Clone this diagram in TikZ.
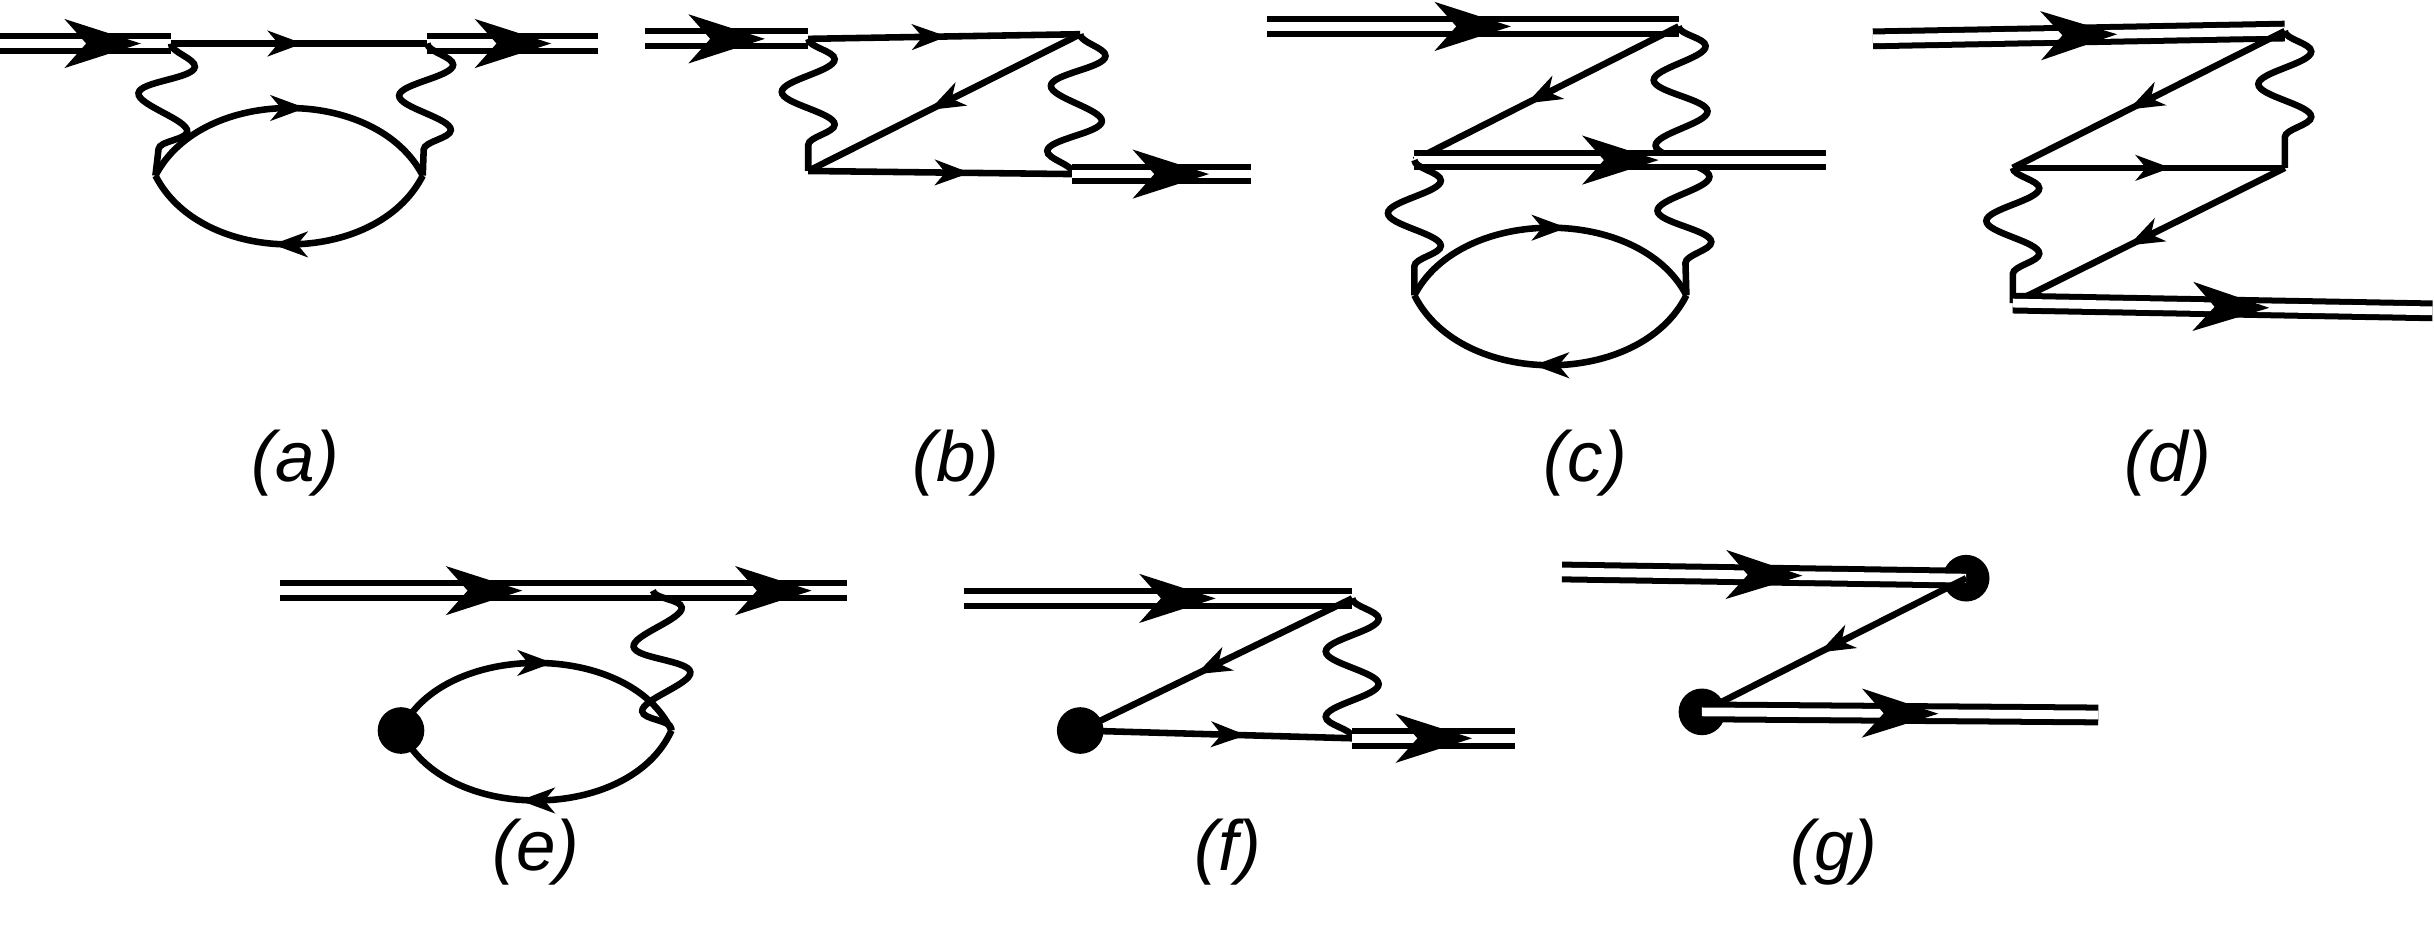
\documentclass[tikz,border=0pt]{standalone}
\usepackage{fontspec}
\setmainfont{Liberation Sans}
\usetikzlibrary{decorations.pathmorphing,decorations.markings}
\tikzset{
 ln/.style={line width=1.2pt},
 dl/.style={double, double distance=1.6pt, line width=1.1pt},
 big/.style={postaction={decorate,decoration={markings,mark=at position #1 with {\fill (-7pt,-4.5pt)--(7pt,0)--(-7pt,4.5pt)--(-3pt,0)--cycle;}}}},
 sm/.style={postaction={decorate,decoration={markings,mark=at position #1 with {\fill (-3.5pt,-2.4pt)--(3pt,0)--(-3.5pt,2.4pt)--(-1.5pt,0)--cycle;}}}},
 wig/.style={line width=1.2pt, decorate, decoration={snake, segment length=0.42cm, amplitude=0.17cm}},
 lab/.style={font=\itshape\fontsize{13}{16}\selectfont},
 dot/.style={circle, fill, inner sep=0pt, minimum size=0.3cm}
}
\begin{document}
\begin{tikzpicture}[x=0.01cm,y=-0.01cm]
\useasboundingbox (0,0) rectangle (1566,606);
% (a)
\coordinate (a0) at (0,28); \coordinate (a1) at (110,28); \coordinate (a2) at (275,28); \coordinate (a3) at (385,28);
\coordinate (aL) at (100,113); \coordinate (aR) at (272,113);
\draw[dl] (a0)--(a1); \path[big=0.6] (a0)--(a1);
\draw[ln,sm=0.45] (a1)--(a2);
\draw[dl] (a2)--(a3); \path[big=0.5] (a2)--(a3);
\draw[wig] (a1)--(aL); \draw[wig] (a2)--(aR);
\draw[ln,sm=0.5] (aL) .. controls (130,55) and (242,55) .. (aR);
\draw[ln,sm=0.5] (aR) .. controls (242,172) and (130,172) .. (aL);
\node[lab] (la) at (190,298) {(a)};
% (b)
\coordinate (b0) at (415,25); \coordinate (b1) at (520,25); \coordinate (b2) at (695,22);
\coordinate (b3) at (520,110); \coordinate (b4) at (690,112); \coordinate (b5) at (805,112);
\draw[dl] (b0)--(b1); \path[big=0.5] (b0)--(b1);
\draw[ln,sm=0.45] (b1)--(b2);
\draw[wig] (b1)--(b3); \draw[wig] (b2)--(b4);
\draw[ln,sm=0.5] (b2)--(b3);
\draw[ln,sm=0.55] (b3)--(b4);
\draw[dl] (b4)--(b5); \path[big=0.55] (b4)--(b5);
\node[lab] (lb) at (615,298) {(b)};
% (c)
\coordinate (c0) at (815,17); \coordinate (c1) at (1080,17); \coordinate (c2) at (910,103);
\coordinate (c3) at (1175,103); \coordinate (cL) at (910,190); \coordinate (cR) at (1085,190);
\draw[dl] (c0)--(c1); \path[big=0.5] (c0)--(c1);
\draw[ln,sm=0.52] (c1)--(c2);
\draw[wig] (c1)--(cR);
\draw[dl] (c2)--(c3); \path[big=0.5] (c2)--(c3);
\draw[wig] (c2)--(cL);
\draw[ln,sm=0.5] (cL) .. controls (940,132) and (1055,132) .. (cR);
\draw[ln,sm=0.5] (cR) .. controls (1055,250) and (940,250) .. (cL);
\node[lab] (lc) at (1020,298) {(c)};
% (d)
\coordinate (d0) at (1205,25); \coordinate (d1) at (1470,20); \coordinate (d2) at (1295,108);
\coordinate (d3) at (1470,108); \coordinate (d4) at (1295,195); \coordinate (d5) at (1565,200);
\draw[dl] (d0)--(d1); \path[big=0.5] (d0)--(d1);
\draw[ln,sm=0.52] (d1)--(d2);
\draw[wig] (d1)--(d3);
\draw[ln,sm=0.52] (d2)--(d3);
\draw[ln,sm=0.52] (d3)--(d4);
\draw[wig] (d2)--(d4);
\draw[dl] (d4)--(d5); \path[big=0.52] (d4)--(d5);
\node[lab] (ld) at (1395,298) {(d)};
% (e)
\coordinate (e0) at (180,380); \coordinate (e1) at (545,380); \coordinate (ew) at (420,380);
\node[dot] (eD) at (258,470) {}; \coordinate (eR) at (432,470);
\draw[dl] (e0)--(e1); \path[big=0.36] (e0)--(e1); \path[big=0.87] (e0)--(e1);
\draw[wig] (ew)--(eR);
\draw[ln,sm=0.5] (eD.center) .. controls (285,412) and (405,412) .. (eR);
\draw[ln,sm=0.5] (eR) .. controls (405,530) and (285,530) .. (eD.center);
\node[lab] (le) at (345,548) {(e)};
% (f)
\coordinate (f0) at (620,385); \coordinate (f1) at (870,385); \node[dot] (fD) at (695,470) {};
\coordinate (f2) at (870,475); \coordinate (f3) at (975,475);
\draw[dl] (f0)--(f1); \path[big=0.55] (f0)--(f1);
\draw[ln,sm=0.52] (f1)--(fD.center);
\draw[wig] (f1)--(f2);
\draw[ln,sm=0.55] (fD.center)--(f2);
\draw[dl] (f2)--(f3); \path[big=0.5] (f2)--(f3);
\node[lab] (lf) at (790,548) {(f)};
% (g)
\coordinate (g0) at (1005,368); \node[dot] (gA) at (1265,372) {}; \node[dot] (gB) at (1095,458) {};
\coordinate (g1) at (1350,460);
\draw[dl] (g0)--(gA.center); \path[big=0.5] (g0)--(gA.center);
\draw[ln,sm=0.5] (gA.center)--(gB.center);
\draw[dl] (gB.center)--(g1); \path[big=0.5] (gB.center)--(g1);
\node[lab] (lg) at (1180,548) {(g)};
\end{tikzpicture}
\end{document}
